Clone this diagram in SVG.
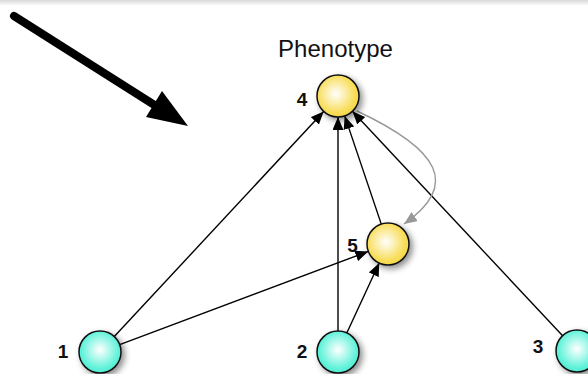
<svg xmlns="http://www.w3.org/2000/svg" width="588" height="374" viewBox="0 0 588 374">
<defs>
<style>
.lbl{font-family:"Liberation Sans",Arial,sans-serif;font-weight:bold;font-size:19px;fill:#111;text-anchor:middle}
.title{font-family:"Liberation Sans",Arial,sans-serif;font-size:24px;fill:#111;text-anchor:middle}
.edge{stroke:#000;stroke-width:1.4;fill:none;marker-end:url(#ah)}
.gedge{stroke:#999;stroke-width:1.4;fill:none;marker-end:url(#ahg)}
.node{stroke:#111;stroke-width:1.5;filter:url(#sh)}
.y{fill:url(#gy)}
.c{fill:url(#gc)}
</style>
<linearGradient id="top" x1="0" y1="0" x2="0" y2="1">
<stop offset="0" stop-color="#d8d8d8"/><stop offset="1" stop-color="#ffffff"/>
</linearGradient>
<radialGradient id="gy" cx="0.45" cy="0.45" r="0.6">
<stop offset="0" stop-color="#ffffff"/><stop offset="0.75" stop-color="#f8dd58"/><stop offset="1" stop-color="#f2d545"/>
</radialGradient>
<radialGradient id="gc" cx="0.5" cy="0.45" r="0.6">
<stop offset="0" stop-color="#ffffff"/><stop offset="0.75" stop-color="#5ef2d9"/><stop offset="1" stop-color="#4ce8d0"/>
</radialGradient>
<filter id="sh" x="-50%" y="-50%" width="200%" height="200%">
<feDropShadow dx="3" dy="3" stdDeviation="3" flood-color="#000" flood-opacity="0.45"/>
</filter>
<marker id="ah" markerUnits="userSpaceOnUse" markerWidth="14" markerHeight="11" refX="13" refY="5.5" orient="auto">
<path d="M0,0 L13,5.5 L0,11 z" fill="#000"/>
</marker>
<marker id="ahg" markerUnits="userSpaceOnUse" markerWidth="14" markerHeight="11" refX="13" refY="5.5" orient="auto">
<path d="M0,0 L13,5.5 L0,11 z" fill="#999"/>
</marker>
</defs>
<rect x="0" y="0" width="588" height="374" fill="#fff"/>
<rect x="0" y="0" width="588" height="6" fill="url(#top)"/>
<g id="big-arrow">
<line x1="14" y1="16" x2="156" y2="106" stroke="#000" stroke-width="8" stroke-linecap="round"/>
<polygon points="188,126 146,117 162,91" fill="#000"/>
</g>
<text class="title" x="335.5" y="57">Phenotype</text>
<g id="connectors">
<line class="edge" x1="114.3" y1="336.6" x2="323.7" y2="111.4"/>
<line class="edge" x1="119.7" y1="344.6" x2="368.3" y2="251.4"/>
<line class="edge" x1="338" y1="331" x2="338" y2="117"/>
<line class="edge" x1="346.8" y1="333" x2="379.2" y2="263"/>
<line class="edge" x1="381.3" y1="224.1" x2="344.7" y2="115.9"/>
<line class="edge" x1="562.6" y1="335.7" x2="352.4" y2="111.3"/>
<path class="gedge" d="M357,111 C440,150 460,185 404,224"/>
</g>
<g id="node4"><circle class="node y" cx="338" cy="96" r="21"/><text class="lbl" x="302" y="106">4</text></g>
<g id="node5"><circle class="node y" cx="388" cy="244" r="21"/><text class="lbl" x="352.5" y="252">5</text></g>
<g id="node1"><circle class="node c" cx="100" cy="352" r="21"/><text class="lbl" x="63" y="358">1</text></g>
<g id="node2"><circle class="node c" cx="338" cy="352" r="21"/><text class="lbl" x="302" y="358">2</text></g>
<g id="node3"><circle class="node c" cx="577" cy="351" r="21"/><text class="lbl" x="538" y="353">3</text></g>
</svg>
